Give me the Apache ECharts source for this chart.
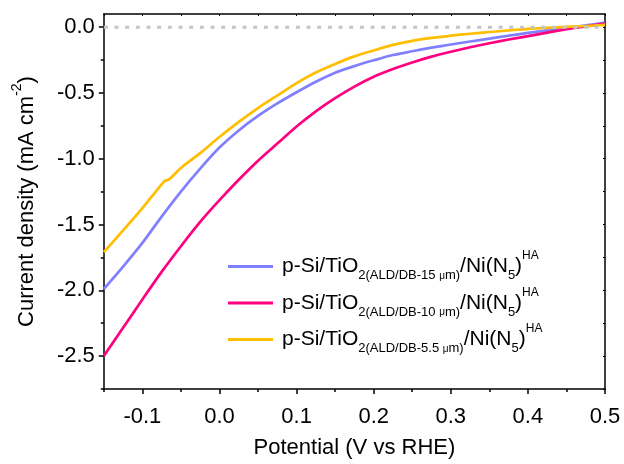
<!DOCTYPE html>
<html><head><meta charset="utf-8">
<script src="https://cdn.jsdelivr.net/npm/echarts@6/dist/echarts.min.js"></script>
<style>html,body{margin:0;padding:0;background:#fff}#c{width:624px;height:464px}</style>
</head><body><div id="c"></div>
<script>
// Potential (V vs RHE) for the 15 um and 10 um curves
const potential = [-0.15, -0.125, -0.1, -0.075, -0.05, -0.025, 0, 0.025, 0.05, 0.075, 0.1, 0.125, 0.15, 0.175, 0.2, 0.225, 0.25, 0.275, 0.3, 0.325, 0.35, 0.375, 0.4, 0.425, 0.45, 0.475, 0.5];
// Current density (mA cm-2)
const j15um  = [-1.99, -1.82, -1.64, -1.44, -1.25, -1.075, -0.915, -0.785, -0.675, -0.58, -0.495, -0.415, -0.346, -0.296, -0.252, -0.212, -0.183, -0.156, -0.132, -0.109, -0.087, -0.065, -0.044, -0.025, -0.007, 0.013, 0.035];
const j10um  = [-2.5, -2.285, -2.07, -1.86, -1.665, -1.48, -1.315, -1.16, -1.015, -0.885, -0.755, -0.64, -0.54, -0.452, -0.377, -0.318, -0.268, -0.224, -0.187, -0.153, -0.122, -0.094, -0.068, -0.041, -0.016, 0.006, 0.027];
// Potential for the 5.5 um curve (has a small step near -0.07 V)
const potential55 = [-0.15, -0.125, -0.1, -0.075, -0.0715, -0.065, -0.05, -0.025, 0, 0.025, 0.05, 0.075, 0.1, 0.125, 0.15, 0.175, 0.2, 0.225, 0.25, 0.275, 0.3, 0.325, 0.35, 0.375, 0.4, 0.425, 0.45, 0.475, 0.5];
const j55um  = [-1.71, -1.545, -1.375, -1.195, -1.171, -1.155, -1.07, -0.957, -0.835, -0.72, -0.615, -0.52, -0.425, -0.345, -0.28, -0.222, -0.177, -0.135, -0.104, -0.082, -0.065, -0.05, -0.037, -0.025, -0.013, -0.005, 0.002, 0.009, 0.017];
const seriesNames = ['15 μm', '10 μm', '5.5 μm'];
const seriesColors = ['#8080FF', '#FF0080', '#FFBE00'];
const zeroLine = [[-0.15, 0], [0.5, 0]];
const xMajorTicks = [-0.1, 0, 0.1, 0.2, 0.3, 0.4, 0.5];
const xMinorTicks = [-0.15, -0.05, 0.05, 0.15, 0.25, 0.35, 0.45];
const yMajorTicks = [-2.5, -2, -1.5, -1, -0.5, 0];
const yMinorTicks = [-2.75, -2.25, -1.75, -1.25, -0.75, -0.25];

const FONT = '"Liberation Sans", Arial, sans-serif';
const chart = echarts.init(document.getElementById('c'), null, {renderer: 'canvas'});
const X = {min: -0.15, max: 0.5};
const Y = {min: -2.75, max: 0.1};
const allX = xMajorTicks.concat(xMinorTicks);
const allY = yMajorTicks.concat(yMinorTicks);
const axisLineStyle = {color: '#000', width: 1.5};

function legendText(name) {
  const d = name.replace(' μm', '');
  return '{p0|p-Si/TiO}{sb|2(ALD/DB-' + d + ' }{mu|μ}{sb|m)}{m|/Ni(N}{sb|5}{m|)}{sp|HA}';
}

function lineSeries(idx, xs, ys) {
  return {
    name: seriesNames[idx], type: 'line', xAxisIndex: 0, yAxisIndex: 0,
    data: xs.map((v, i) => [v, ys[i]]),
    showSymbol: false, symbol: 'none', smooth: 0.3,
    lineStyle: {color: seriesColors[idx], width: 2.7}, itemStyle: {color: seriesColors[idx]}, z: 3
  };
}

const option = {
  animation: false,
  backgroundColor: '#fff',
  textStyle: {fontFamily: FONT},
  grid: {left: 97, right: 19, top: 14, bottom: 64},
  legend: {
    data: seriesNames,
    orient: 'vertical',
    left: 223, top: 243,
    itemWidth: 45, itemHeight: 3, itemGap: -0.5,
    icon: 'rect',
    formatter: legendText,
    textStyle: {
      fontFamily: FONT, color: '#000',
      rich: {
        p0: {fontSize: 21, lineHeight: 22, padding: [8, 0, 8, 4], fontFamily: FONT, color: '#000'},
        m: {fontSize: 21, lineHeight: 22, padding: [8, 0, 8, 0], fontFamily: FONT, color: '#000'},
        sb: {fontSize: 13, lineHeight: 14, padding: [21, 0, 3, 0], fontFamily: FONT, color: '#000'},
        mu: {fontSize: 10, lineHeight: 11, padding: [23, 0, 4, 0], fontFamily: FONT, color: '#000'},
        sp: {fontSize: 12, lineHeight: 13, padding: [2, 0, 23, 0], fontFamily: FONT, color: '#000'}
      }
    }
  },
  xAxis: [
    {
      type: 'value', position: 'bottom', ...X,
      name: 'Potential (V vs RHE)', nameLocation: 'middle', nameGap: 48,
      nameTextStyle: {fontSize: 22, fontFamily: FONT, color: '#000'},
      axisLine: {show: true, onZero: false, lineStyle: axisLineStyle},
      axisTick: {show: true, inside: false, length: 5, customValues: xMajorTicks, lineStyle: {color: '#000', width: 1.5}},
      axisLabel: {show: true, margin: 17, fontSize: 22, fontFamily: FONT, color: '#000', customValues: xMajorTicks,
        formatter: v => v.toFixed(1)},
      splitLine: {show: false}
    },
    {
      type: 'value', position: 'bottom', ...X,
      axisLine: {show: false, onZero: false},
      axisTick: {show: true, inside: false, length: 3, customValues: xMinorTicks, lineStyle: {color: '#000', width: 1.5}},
      axisLabel: {show: false},
      splitLine: {show: false}
    },
    {
      type: 'value', position: 'top', ...X,
      axisLine: {show: true, onZero: false, lineStyle: axisLineStyle},
      axisTick: {show: true, inside: true, length: 2, customValues: allX, lineStyle: {color: '#000', width: 1}},
      axisLabel: {show: false},
      splitLine: {show: false}
    }
  ],
  yAxis: [
    {
      type: 'value', position: 'left', ...Y,
      name: '{m|Current density (mA cm}{sp|-2}{m|)}', nameLocation: 'middle', nameGap: 50, nameRotate: 90,
      nameTextStyle: {
        fontFamily: FONT, color: '#000',
        rich: {
          m: {fontSize: 22, lineHeight: 22, padding: [8, 0, 8, 0], fontFamily: FONT, color: '#000'},
          sp: {fontSize: 14, lineHeight: 14, padding: [2, 0, 22, 0], fontFamily: FONT, color: '#000'}
        }
      },
      axisLine: {show: true, onZero: false, lineStyle: axisLineStyle},
      axisTick: {show: true, inside: false, length: 5, customValues: yMajorTicks, lineStyle: {color: '#000', width: 1.5}},
      axisLabel: {show: true, margin: 9, fontSize: 22, fontFamily: FONT, color: '#000', customValues: yMajorTicks,
        formatter: v => v.toFixed(1)},
      splitLine: {show: false}
    },
    {
      type: 'value', position: 'left', ...Y,
      axisLine: {show: false, onZero: false},
      axisTick: {show: true, inside: false, length: 3, customValues: yMinorTicks, lineStyle: {color: '#000', width: 1.5}},
      axisLabel: {show: false},
      splitLine: {show: false}
    },
    {
      type: 'value', position: 'right', ...Y,
      axisLine: {show: true, onZero: false, lineStyle: axisLineStyle},
      axisTick: {show: true, inside: true, length: 2, customValues: allY, lineStyle: {color: '#000', width: 1}},
      axisLabel: {show: false},
      splitLine: {show: false}
    }
  ],
  series: [
    lineSeries(0, potential, j15um),
    lineSeries(1, potential, j10um),
    lineSeries(2, potential55, j55um),
    {
      name: 'zero', type: 'line', xAxisIndex: 0, yAxisIndex: 0,
      data: zeroLine, showSymbol: false, symbol: 'none', silent: true,
      lineStyle: {color: '#c4c4c4', width: 3, type: [4, 6.67]}, z: 4
    }
  ]
};
chart.setOption(option);
</script>
</body></html>
